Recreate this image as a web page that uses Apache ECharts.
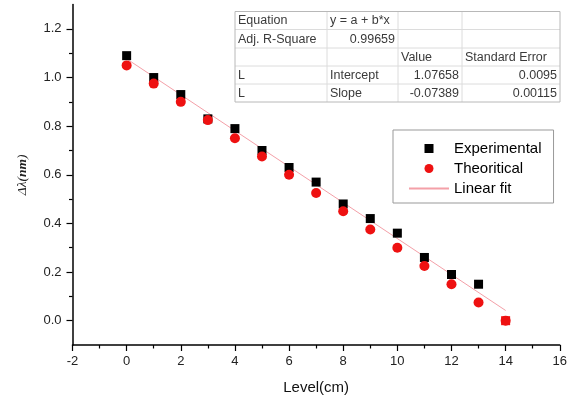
<!DOCTYPE html>
<html>
<head>
<meta charset="utf-8">
<script src="https://cdn.jsdelivr.net/npm/echarts@6/dist/echarts.min.js"></script>
<style>html,body{margin:0;padding:0;background:#fff}#c{width:570px;height:400px}</style>
</head>
<body>
<div id="c"></div>
<script>
// ---- data ----
var levels = [0, 1, 2, 3, 4, 5, 6, 7, 8, 9, 10, 11, 12, 13, 14];
var experimental = [1.09, 1.00, 0.93, 0.83, 0.79, 0.70, 0.63, 0.57, 0.48, 0.42, 0.36, 0.26, 0.19, 0.15, 0.00];
var theoretical = [1.05, 0.975, 0.90, 0.825, 0.75, 0.675, 0.60, 0.525, 0.45, 0.375, 0.30, 0.225, 0.15, 0.075, 0.00];
var fitX = [0, 14];
var fitY = [1.077, 0.042];
var yTickValues = [0.0, 0.2, 0.4, 0.6, 0.8, 1.0, 1.2];
var yMinorValues = [0.1, 0.3, 0.5, 0.7, 0.9, 1.1];
var tableRows = [
  ['Equation', 'y = a + b*x', '', ''],
  ['Adj. R-Square', '0.99659', '', ''],
  ['', '', 'Value', 'Standard Error'],
  ['L', 'Intercept', '1.07658', '0.0095'],
  ['L', 'Slope', '-0.07389', '0.00115']
];
var seriesNames = ['Experimental', 'Theoritical', 'Linear fit'];

// ---- build ----
var font = "'Liberation Sans', Arial, sans-serif";
var expData = levels.map(function (x, i) {
  var d = { value: [x, experimental[i]] };
  if (i === levels.length - 1) d.itemStyle = { color: '#ee1111' };
  return d;
});
var theoData = levels.map(function (x, i) { return [x, theoretical[i]]; });
var fitData = fitX.map(function (x, i) { return [x, fitY[i]]; });

// table graphic
var colX = [235, 327, 398, 462, 560];
var rowY = [11.5, 29.5, 48, 66, 84, 102];
var tableEls = [];
for (var r = 1; r < rowY.length - 1; r++) {
  tableEls.push({ type: 'line', shape: { x1: colX[0], y1: rowY[r], x2: colX[4], y2: rowY[r] }, style: { stroke: '#dcdcdc', lineWidth: 1 } });
}
for (var c = 1; c < colX.length - 1; c++) {
  tableEls.push({ type: 'line', shape: { x1: colX[c], y1: rowY[0], x2: colX[c], y2: rowY[5] }, style: { stroke: '#dcdcdc', lineWidth: 1 } });
}
tableEls.push({ type: 'rect', shape: { x: colX[0], y: rowY[0], width: colX[4] - colX[0], height: rowY[5] - rowY[0] }, style: { fill: null, stroke: '#b8b8b8', lineWidth: 1 } });
var rightAlign = { '1,1': 1, '3,2': 1, '3,3': 1, '4,2': 1, '4,3': 1 };
tableRows.forEach(function (row, ri) {
  row.forEach(function (txt, ci) {
    if (!txt) return;
    var ra = rightAlign[ri + ',' + ci];
    tableEls.push({
      type: 'text',
      x: ra ? colX[ci + 1] - 3 : colX[ci] + 3,
      y: (rowY[ri] + rowY[ri + 1]) / 2 + 0.5,
      style: { text: txt, fill: '#3a3a3a', font: '12.5px ' + font, align: ra ? 'right' : 'left', verticalAlign: 'middle' }
    });
  });
});

var chart = echarts.init(document.getElementById('c'), null, { renderer: 'canvas' });
chart.setOption({
  animation: false,
  backgroundColor: '#fff',
  grid: { left: 72.5, right: 9, top: 4.6, bottom: 54, containLabel: false },
  xAxis: {
    type: 'value', min: -2, max: 16, interval: 2,
    name: 'Level(cm)', nameLocation: 'middle', nameGap: 35,
    nameTextStyle: { fontFamily: font, fontSize: 15, color: '#111' },
    axisLine: { onZero: false, lineStyle: { color: '#000', width: 1.5 } },
    axisTick: { show: true, inside: false, length: 6, lineStyle: { color: '#000', width: 1.2 } },
    minorTick: { show: true, splitNumber: 2, length: 3.5, lineStyle: { color: '#000', width: 1.2 } },
    axisLabel: { fontFamily: font, fontSize: 13, color: '#222', margin: 10 },
    splitLine: { show: false }
  },
  yAxis: [{
    type: 'value', min: -0.1, max: 1.3,
    name: '{i|Δλ(}{b|nm}{i|)}', nameLocation: 'middle', nameGap: 43, nameRotate: 90,
    nameTextStyle: {
      rich: {
        i: { fontFamily: "'Liberation Serif', 'Times New Roman', serif", fontStyle: 'italic', fontSize: 13.5, color: '#222' },
        b: { fontFamily: "'Liberation Serif', 'Times New Roman', serif", fontStyle: 'italic', fontWeight: 'bold', fontSize: 13.5, color: '#222' }
      }
    },
    axisLine: { show: true, onZero: false, lineStyle: { color: '#000', width: 1.5 } },
    axisTick: { show: true, inside: false, length: 6, customValues: yTickValues, lineStyle: { color: '#000', width: 1.2 } },
    axisLabel: { fontFamily: font, fontSize: 13, color: '#222', margin: 11, customValues: yTickValues,
      formatter: function (v) { return v.toFixed(1); } },
    splitLine: { show: false }
  }, {
    type: 'value', min: -0.1, max: 1.3, position: 'left',
    axisLine: { show: false, onZero: false },
    axisTick: { show: true, inside: false, length: 3.5, customValues: yMinorValues, lineStyle: { color: '#000', width: 1.2 } },
    axisLabel: { show: false },
    splitLine: { show: false }
  }],
  legend: {
    data: [
      { name: seriesNames[0], icon: 'path://M0,0L10,0L10,10L0,10Z' },
      { name: seriesNames[1], icon: 'circle' },
      { name: seriesNames[2], itemStyle: { opacity: 0 } }
    ],
    orient: 'vertical', left: 393, top: 130,
    itemWidth: 40, itemHeight: 9, itemGap: 5,
    symbolKeepAspect: true,
    padding: [11, 12, 7, 15],
    borderColor: '#999', borderWidth: 1,
    textStyle: { fontFamily: font, fontSize: 15, color: '#000', lineHeight: 15 },
    selectedMode: false
  },
  graphic: tableEls,
  series: [{
    name: seriesNames[2], type: 'line', data: fitData, symbol: 'none', showSymbol: false, z: 1,
    lineStyle: { color: '#f4a0a8', width: 1 }, itemStyle: { color: '#f4a0a8' }
  }, {
    name: seriesNames[0], type: 'scatter', data: expData, symbol: 'rect', symbolSize: 9, z: 2,
    itemStyle: { color: '#000', opacity: 1 }
  }, {
    name: seriesNames[1], type: 'scatter', data: theoData, symbol: 'circle', symbolSize: 10, z: 3,
    itemStyle: { color: '#ee1111', opacity: 1 }
  }]
});
</script>
</body>
</html>
